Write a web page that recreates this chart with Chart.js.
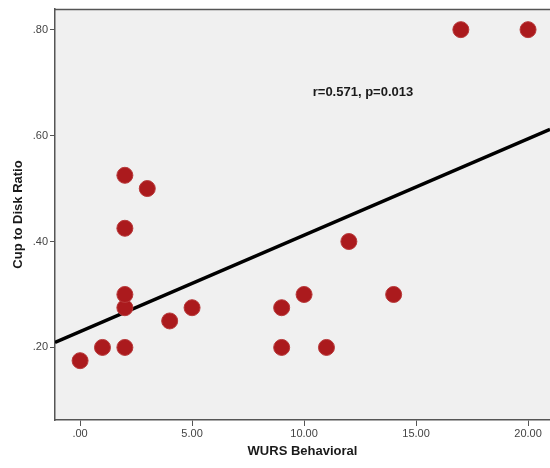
<!DOCTYPE html>
<html lang="en">
<head>
    <meta charset="UTF-8">
    <title>Cup to Disk Ratio vs WURS Behavioral</title>
    <script src="https://cdn.jsdelivr.net/npm/chart.js"></script>
    <style>
        html, body { margin: 0; padding: 0; background: #ffffff; overflow: hidden; }
        /* the plot panel runs past the right edge, as in the cropped original */
        #clip { width: 550px; height: 468px; overflow: hidden; }
        #wrap { width: 559px; height: 468px; }
    </style>
</head>
<body>
    <div id="clip"><div id="wrap"><canvas id="scatter"></canvas></div></div>

    <script>
        // data
        const wursBehavioral = [0, 1, 2, 2, 2, 2, 2, 3, 4, 5, 9, 9, 10, 11, 12, 14, 17, 20];
        const cupToDisk = [0.175, 0.20, 0.20, 0.275, 0.30, 0.425, 0.525, 0.50, 0.25, 0.275, 0.275, 0.20, 0.30, 0.20, 0.40, 0.30, 0.80, 0.80];
        const xTicks = [0, 5, 10, 15, 20];
        const yTicks = [0.2, 0.4, 0.6, 0.8];
        // fit line
        const fitIntercept = 0.230;
        const fitSlope = 0.0182;
        const statsLabel = "r=0.571, p=0.013";

        const xMin = -1.12, xMax = 20.98;
        const yMin = 0.063, yMax = 0.839;

        const points = wursBehavioral.map((x, i) => ({ x: x, y: cupToDisk[i] }));
        const fitLine = [xMin, xMax].map(x => ({ x: x, y: fitIntercept + fitSlope * x }));

        function fmt(v) {
            let s = v.toFixed(2);
            if (s.startsWith("0.")) s = s.slice(1);
            return s;
        }

        // plot panel background + top frame, and the r/p label
        const panelPlugin = {
            id: "panel",
            beforeDraw(chart) {
                const a = chart.chartArea, ctx = chart.ctx;
                ctx.save();
                ctx.fillStyle = "#f0f0f0";
                ctx.fillRect(a.left, a.top, a.right - a.left, a.bottom - a.top);
                ctx.strokeStyle = "#555555";
                ctx.lineWidth = 1.5;
                ctx.beginPath();
                ctx.moveTo(a.right, a.top + 0.5);
                ctx.lineTo(a.left, a.top + 0.5);
                ctx.stroke();
                ctx.restore();
            },
            afterDatasetsDraw(chart) {
                const ctx = chart.ctx;
                const sx = chart.scales.x, sy = chart.scales.y;
                ctx.save();
                ctx.font = "bold 13px 'Liberation Sans', Arial, sans-serif";
                ctx.fillStyle = "#1a1a1a";
                ctx.textAlign = "center";
                ctx.textBaseline = "middle";
                ctx.fillText(statsLabel, sx.getPixelForValue(12.63), sy.getPixelForValue(0.682));
                ctx.restore();
            }
        };

        new Chart(document.getElementById("scatter"), {
            type: "scatter",
            data: {
                datasets: [
                    {
                        type: "line",
                        data: fitLine,
                        borderColor: "#000000",
                        borderWidth: 3.5,
                        pointRadius: 0,
                        fill: false,
                        order: 2
                    },
                    {
                        data: points,
                        backgroundColor: "#ab1a1d",
                        borderColor: "#b8393a",
                        borderWidth: 1,
                        pointRadius: 8,
                        order: 1
                    }
                ]
            },
            options: {
                responsive: true,
                maintainAspectRatio: false,
                animation: false,
                layout: { padding: { top: 7, right: 0, left: 0, bottom: 0 } },
                plugins: {
                    legend: { display: false },
                    tooltip: { enabled: false }
                },
                scales: {
                    x: {
                        type: "linear",
                        min: xMin,
                        max: xMax,
                        afterBuildTicks(scale) { scale.ticks = xTicks.map(v => ({ value: v })); },
                        afterFit(scale) { scale.height = 48; },
                        ticks: {
                            callback: v => fmt(v),
                            color: "#444444",
                            font: { family: "'Liberation Sans', Arial, sans-serif", size: 11 },
                            padding: 1,
                            maxRotation: 0
                        },
                        grid: {
                            drawOnChartArea: false,
                            drawTicks: true,
                            tickLength: 6,
                            color: "#555555"
                        },
                        border: { display: true, color: "#555555", width: 1.5 },
                        title: {
                            display: true,
                            text: "WURS Behavioral",
                            color: "#1a1a1a",
                            font: { family: "'Liberation Sans', Arial, sans-serif", size: 13, weight: "bold" },
                            padding: { top: 4, bottom: 9 }
                        }
                    },
                    y: {
                        type: "linear",
                        min: yMin,
                        max: yMax,
                        afterBuildTicks(scale) { scale.ticks = yTicks.map(v => ({ value: v })); },
                        afterFit(scale) { scale.width = 55; },
                        ticks: {
                            callback: v => fmt(v),
                            color: "#444444",
                            font: { family: "'Liberation Sans', Arial, sans-serif", size: 11 },
                            padding: 2
                        },
                        grid: {
                            drawOnChartArea: false,
                            drawTicks: true,
                            tickLength: 5,
                            color: "#555555"
                        },
                        border: { display: true, color: "#555555", width: 1.5 },
                        title: {
                            display: true,
                            text: "Cup to Disk Ratio",
                            color: "#1a1a1a",
                            font: { family: "'Liberation Sans', Arial, sans-serif", size: 13, weight: "bold" },
                            padding: { top: 11, bottom: 0 }
                        }
                    }
                }
            },
            plugins: [panelPlugin]
        });
    </script>
</body>
</html>
